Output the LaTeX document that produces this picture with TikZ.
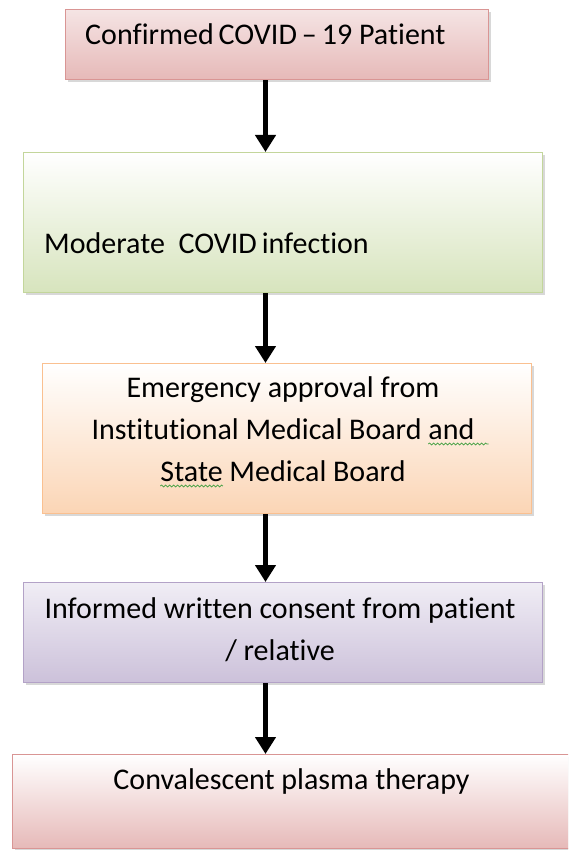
\documentclass[tikz,border=0pt]{standalone}
\usepackage{fontspec}
\setmainfont{Carlito}[Ligatures={NoCommon}]
\usetikzlibrary{arrows.meta,shadows,decorations.pathmorphing}
\definecolor{pinkline}{HTML}{D99594}
\definecolor{pinktop}{HTML}{F5E4E4}
\definecolor{pinkbot}{HTML}{E6B9B8}
\definecolor{greenline}{HTML}{C3D69B}
\definecolor{greenbot}{HTML}{D7E4BD}
\definecolor{orangeline}{HTML}{FAC090}
\definecolor{orangebot}{HTML}{FBD5B5}
\definecolor{purpleline}{HTML}{B3A2C7}
\definecolor{purpletop}{HTML}{F0EDF5}
\definecolor{purplebot}{HTML}{CCC1DA}
\definecolor{wavegreen}{HTML}{3F9F3F}
\newcommand\grammarwave[2][0pt]{\tikz[baseline=(w.base)]{\node[inner sep=0pt] (w) {#2};
    \draw[overlay,wavegreen,line width=0.7pt,decorate,decoration={snake,amplitude=1pt,segment length=4pt}]
        ([yshift=-5pt]w.base west) -- ([yshift=-5pt,xshift=#1]w.base east);}}
\begin{document}
\begin{tikzpicture}[x=1pt,y=-1pt,
    stage/.style={rectangle,draw,line width=1.2pt,inner sep=0pt,anchor=north west,
        drop shadow={shadow xshift=2pt,shadow yshift=-2.5pt,fill=black!30}},
    txt/.style={font=\fontsize{30}{42}\selectfont,inner sep=0pt,align=center},
    arr/.style={line width=5pt,-{Triangle[width=20pt,length=17pt]}}]
    %% page
    \useasboundingbox (0,0) rectangle (568,850);
    \clip (0,0) rectangle (568,850);
    \coordinate (spine) at (265.5,0);
    %% boxes
    \node[stage,draw=pinkline,top color=pinktop,bottom color=pinkbot,
        minimum width=423pt,minimum height=70pt] (confirmed) at (65,9) {};
    \node[stage,draw=greenline,top color=white,bottom color=greenbot,
        minimum width=519pt,minimum height=140pt] (moderate) at (23,152) {};
    \node[stage,draw=orangeline,top color=white,bottom color=orangebot,
        minimum width=489pt,minimum height=150pt] (approval) at (42,363) {};
    \node[stage,draw=purpleline,top color=purpletop,bottom color=purplebot,
        minimum width=519pt,minimum height=100pt] (consent) at (23,582) {};
    \node[stage,draw=pinkline,top color=white,bottom color=pinkbot,
        minimum width=580pt,minimum height=94pt] (therapy) at (12,754) {};
    %% texts (base = last line)
    \node[txt,anchor=base west] (confirmedtxt) at (85,45) {Confirmed\,COVID\,--\,19 Patient};
    \node[txt,anchor=base west] (moderatetxt) at (44,253) {Moderate\ \ COVID\,infection};
    \node[txt,anchor=base] (approvaltxt) at (283,481) {Emergency approval from\\
        Institutional Medical Board \grammarwave[14pt]{and}\\
        \grammarwave{State} Medical Board};
    \node[txt,anchor=base] (consenttxt) at (280,660) {Informed written consent from patient\\ / relative};
    \node[txt,anchor=base] (therapytxt) at (291.5,789) {Convalescent plasma therapy};
    %% arrows
    \foreach \a/\b in {confirmed/moderate,moderate/approval,approval/consent,consent/therapy}
        \draw[arr] (\a.south -| spine) -- (\b.north -| spine);
\end{tikzpicture}
\end{document}
